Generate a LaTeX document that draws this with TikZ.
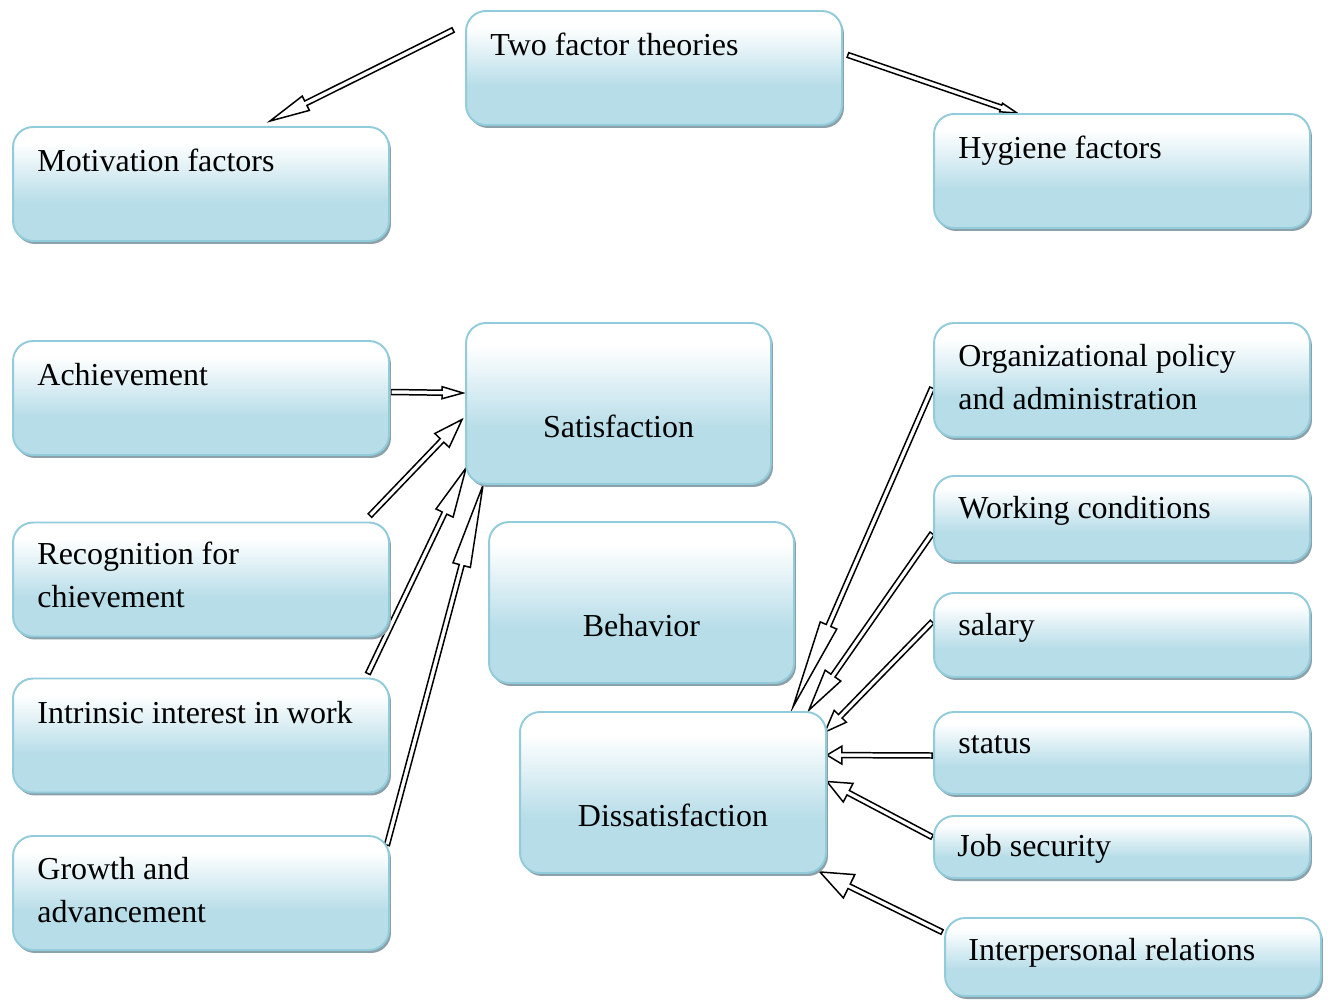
\documentclass[tikz,border=0pt]{standalone}
\usepackage{fontspec}
\setmainfont{Liberation Serif}
\usetikzlibrary{calc,shadows}
\definecolor{BoxEdge}{RGB}{146,203,218}
\definecolor{BoxFill}{RGB}{183,221,232}
\definecolor{ShadowClr}{RGB}{140,160,170}
\pgfdeclareverticalshading{boxshade}{100bp}{color(0bp)=(BoxFill); color(25bp)=(BoxFill); color(42bp)=(BoxFill); color(68bp)=(white); color(100bp)=(white)}
\pgfdeclarelayer{back}
\pgfsetlayers{back,main}
\newcommand{\shaftw}{0.05cm}
\newcommand{\hollowarrow}[6]{%
  \coordinate (hs) at ($(#1)+(#2)$);
  \coordinate (ht) at ($(#3)+(#4)$);
  \draw[hollow] ($(hs)!\shaftw!90:(ht)$) -- ($(ht)!#5!(hs)!\shaftw!-90:(hs)$)
    -- ($(ht)!#5!(hs)!#6!-90:(hs)$) -- (ht) -- ($(ht)!#5!(hs)!#6!90:(hs)$)
    -- ($(ht)!#5!(hs)!\shaftw!90:(hs)$) -- ($(hs)!\shaftw!-90:(ht)$) -- cycle;}

\begin{document}
\begin{tikzpicture}[x=0.02cm,y=-0.02cm,
  box/.style={draw=BoxEdge,line width=1.1pt,rounded corners=0.4cm,shading=boxshade,
    drop shadow={shadow xshift=0.04cm,shadow yshift=-0.06cm,fill=ShadowClr,opacity=1},
    minimum width=7.52cm,minimum height=2.28cm,inner sep=0},
  lbl/.style={font=\fontsize{18.2}{24.5}\selectfont,inner sep=0,align=left,anchor=north west,
    execute at begin node=\strut},
  mid/.style={font=\fontsize{18.2}{24.5}\selectfont,inner sep=0,anchor=base},
  hollow/.style={draw=black,fill=white,line width=0.85pt,line join=miter}]
\useasboundingbox (0,0) rectangle (1328,1000);

\node[box] (two) at (654,68) {};
\node[box] (motiv) at (201,184) {};
\node[box] (hyg) at (1122,171) {};
\node[box] (achieve) at (201,398) {};
\node[box,minimum width=6.10cm,minimum height=3.22cm] (satis) at (618.5,403.5) {};
\node[box] (recog) at (201,579.5) {};
\node[box,minimum width=6.10cm,minimum height=3.22cm] (behav) at (641.5,602.5) {};
\node[box] (intr) at (201,735.5) {};
\node[box,minimum width=6.12cm,minimum height=3.22cm] (dissat) at (673,792.5) {};
\node[box] (growth) at (201,893) {};
\node[box] (org) at (1122,380) {};
\node[box,minimum height=1.70cm] (work) at (1122,518.5) {};
\node[box,minimum height=1.68cm] (salary) at (1122,635) {};
\node[box,minimum height=1.64cm] (status) at (1122,753) {};
\node[box,minimum height=1.24cm] (job) at (1122,847) {};
\node[box,minimum height=1.56cm] (inter) at (1133,957) {};

\node[lbl] (two-t) at ($(two.north west)+(25,15)$) {Two factor theories};
\node[lbl] (motiv-t) at ($(motiv.north west)+(25,15)$) {Motivation factors};
\node[lbl] (hyg-t) at ($(hyg.north west)+(25,15)$) {Hygiene factors};
\node[lbl] (achieve-t) at ($(achieve.north west)+(25,15)$) {Achievement};
\node[lbl] (recog-t) at ($(recog.north west)+(25,20)$) {Recognition for\\chievement};
\node[lbl] (intr-t) at ($(intr.north west)+(25,15)$) {Intrinsic interest in work};
\node[lbl] (growth-t) at ($(growth.north west)+(25,22)$) {Growth and\\advancement};
\node[lbl] (org-t) at ($(org.north west)+(25,22)$) {Organizational policy\\and administration};
\node[lbl] (work-t) at ($(work.north west)+(25,13)$) {Working conditions};
\node[lbl] (salary-t) at ($(salary.north west)+(25,13)$) {salary};
\node[lbl] (status-t) at ($(status.north west)+(25,12)$) {status};
\node[lbl] (job-t) at ($(job.north west)+(24,11)$) {Job security};
\node[lbl] (inter-t) at ($(inter.north west)+(24,13)$) {Interpersonal relations};

\node[mid] (satis-t) at ($(satis.north)+(0,115)$) {Satisfaction};
\node[mid] (behav-t) at ($(behav.north)+(0,115)$) {Behavior};
\node[mid] (dissat-t) at ($(dissat.north)+(0,115)$) {Dissatisfaction};

\begin{pgfonlayer}{back}
\hollowarrow{two.north west}{-12,20}{motiv.north}{69,-5}{0.8cm}{0.16cm}
\hollowarrow{two.east}{5,-13}{hyg.north west}{84,0}{0.34cm}{0.09cm}
\hollowarrow{achieve.east}{1,-6}{satis.west}{-2,-10.5}{0.42cm}{0.12cm}
\hollowarrow{recog.north east}{-20,-6}{satis.west}{-3,16}{0.58cm}{0.2cm}
\hollowarrow{intr.north east}{-22,-4}{satis.south west}{1,-17}{1.0cm}{0.19cm}
\hollowarrow{growth.north east}{-3,10}{satis.south west}{18,0}{1.66cm}{0.18cm}
\hollowarrow{org.west}{-1,8}{dissat.north east}{-34,-4}{1.78cm}{0.18cm}
\hollowarrow{work.west}{-1,15}{dissat.north east}{-18,-1}{0.84cm}{0.19cm}
\hollowarrow{salary.west}{-1,-13}{dissat.north east}{-2,21}{0.44cm}{0.17cm}
\hollowarrow{status.west}{-1,2.5}{dissat.north east}{0,44}{0.3cm}{0.18cm}
\hollowarrow{job.west}{-1,-10}{dissat.east}{0,-11}{0.48cm}{0.21cm}
\hollowarrow{inter.west}{-2,-25}{dissat.south east}{-7,-2}{0.65cm}{0.26cm}
\end{pgfonlayer}

\end{tikzpicture}
\end{document}
